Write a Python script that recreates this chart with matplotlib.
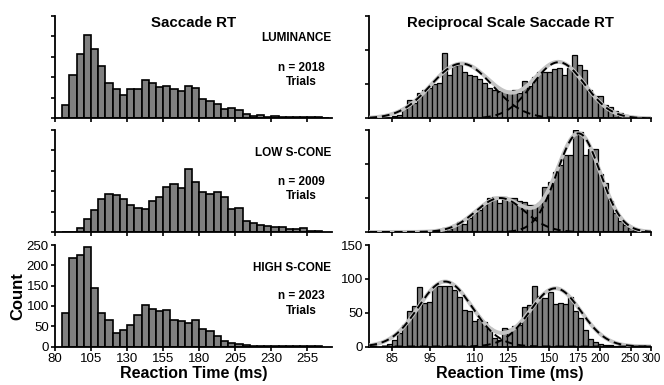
import numpy as np
import matplotlib
matplotlib.use('Agg')
import matplotlib.pyplot as plt

plt.rcParams['font.family'] = ['Liberation Sans', 'DejaVu Sans']

# ---- data: left column, RT histograms (5 ms bins starting at 85 ms)
rt_bin_start = 85
rt_bin_width = 5
counts_lum = [32, 105, 157, 204, 168, 127, 85, 72, 57, 72, 72, 93, 85, 76, 79, 72, 67, 78, 75,
              48, 43, 35, 22, 25, 20, 10, 5, 9, 4, 6, 4, 4, 3, 3, 2, 2, 1]
counts_low = [0, 0, 10, 33, 53, 81, 93, 91, 81, 65, 58, 56, 77, 85, 110, 117, 108, 154, 123,
              98, 94, 98, 85, 56, 59, 26, 22, 17, 15, 12, 13, 7, 7, 9, 3, 2]
counts_high = [82, 218, 225, 245, 143, 82, 65, 33, 40, 52, 78, 102, 93, 87, 89, 65, 63, 57, 65,
               43, 38, 27, 13, 8, 5, 3, 2, 1, 1, 1, 1, 1, 1, 1, 1, 1]

# ---- data: right column, reciprocal RT (-1000/RT) histograms
rec_bin_width = 0.163
rec_first_edge = [-11.92, -10.45, -12.08]
rec_lum = [1, 3, 5, 13, 27, 22, 37, 41, 44, 50, 52, 96, 64, 76, 78, 68, 64, 62, 58, 52, 44, 42,
           40, 40, 40, 41, 37, 55, 47, 61, 67, 67, 68, 72, 73, 63, 74, 93, 78, 70, 41, 32, 32,
           20, 17, 10, 8, 5, 3, 2, 1]
rec_low = [1, 2, 6, 4, 10, 14, 12, 20, 28, 32, 40, 50, 52, 42, 52, 50, 50, 46, 44, 40, 40, 42,
           66, 73, 88, 99, 113, 113, 150, 147, 113, 122, 122, 86, 72, 45, 28, 16, 10, 6, 3, 2, 1]
rec_high = [1, 3, 10, 20, 32, 52, 60, 88, 65, 66, 90, 90, 90, 89, 83, 73, 54, 53, 38, 40, 36,
            28, 12, 10, 27, 26, 30, 32, 59, 62, 90, 74, 72, 80, 63, 65, 63, 73, 52, 42, 24, 11,
            6, 4, 2, 2, 1, 1]

# two-gaussian fits in reciprocal space: (mean, sd, peak)
fit_lum = [(-9.50, 1.00, 80), (-6.34, 0.85, 82)]
fit_low = [(-8.24, 0.80, 50), (-5.69, 0.70, 145)]
fit_high = [(-10.03, 0.875, 96), (-6.445, 0.83, 86)]

conditions = ['LUMINANCE', 'LOW S-CONE', 'HIGH S-CONE']
n_trials = [2018, 2009, 2023]

left_ticks = [80, 105, 130, 155, 180, 205, 230, 255]
right_tick_rt = [85, 95, 110, 125, 150, 175, 200, 250, 300]

left_counts = [counts_lum, counts_low, counts_high]
right_counts = [rec_lum, rec_low, rec_high]
fits = [fit_lum, fit_low, fit_high]

W, H = 664, 385
fig = plt.figure(figsize=(W / 100, H / 100), dpi=100)

rows = [(15.7, 118.3), (130, 232), (245, 346.5)]
bar_gray = '#808080'

for i, (ytop, ybot) in enumerate(rows):
    b = 1 - ybot / H
    h = (ybot - ytop) / H
    axl = fig.add_axes([55 / W, b, 277 / W, h])
    axr = fig.add_axes([369.3 / W, b, (651 - 369.3) / W, h])

    # left: RT histogram
    c = left_counts[i]
    edges = rt_bin_start + rt_bin_width * np.arange(len(c))
    axl.bar(edges, c, width=rt_bin_width, align='edge', color=bar_gray,
            edgecolor='black', linewidth=1.2)
    axl.set_xlim(80, 272)
    axl.set_ylim(0, 250)
    axl.set_xticks(left_ticks)
    axl.set_yticks(np.arange(0, 251, 50))
    axl.text(0.997, 0.778, conditions[i], transform=axl.transAxes, ha='right', va='center',
             fontsize=8.5, fontweight='bold')
    axl.text(0.888, 0.493, 'n = %d' % n_trials[i], transform=axl.transAxes, ha='center',
             va='center', fontsize=8.5, fontweight='bold')
    axl.text(0.888, 0.352, 'Trials', transform=axl.transAxes, ha='center', va='center',
             fontsize=8.5, fontweight='bold')

    # right: reciprocal histogram + fits
    rc = right_counts[i]
    redges = rec_first_edge[i] + rec_bin_width * np.arange(len(rc))
    axr.bar(redges, rc, width=rec_bin_width, align='edge', color=bar_gray,
            edgecolor='black', linewidth=0.9)
    u = np.linspace(-12.5, -1000 / 300, 400)
    comps = [pk * np.exp(-0.5 * ((u - m) / s) ** 2) for m, s, pk in fits[i]]
    axr.plot(u, comps[0] + comps[1], color='#c4c4c4', lw=2.8, solid_capstyle='round', zorder=3)
    for cc in comps:
        axr.plot(u, cc, color='black', lw=1.4, ls=(0, (4, 2.5)), zorder=4)
    axr.set_xlim(-12.5, -1000 / 300)
    axr.set_ylim(0, 150)
    axr.set_xticks([-1000 / t for t in right_tick_rt])
    axr.set_yticks([0, 50, 100, 150])

    for ax in (axl, axr):
        for s in ('top', 'right'):
            ax.spines[s].set_visible(False)
        for s in ('left', 'bottom'):
            ax.spines[s].set_linewidth(1.3)
        ax.tick_params(direction='out', length=3, width=1.2, labelsize=9.5, pad=1.5)
        if i < 2:
            ax.set_xticklabels([])
            ax.set_yticklabels([])

    if i == 0:
        axl.text(0.5, 0.93, 'Saccade RT', transform=axl.transAxes, ha='center', va='center',
                 fontsize=10.8, fontweight='bold')
        axr.text(0.5, 0.93, 'Reciprocal Scale Saccade RT', transform=axr.transAxes,
                 ha='center', va='center', fontsize=10.7, fontweight='bold')
    if i == 2:
        axr.set_xticklabels([str(t) for t in right_tick_rt])
        axr.tick_params(axis='x', labelsize=8.3)
        axl.set_xticklabels([str(t) for t in left_ticks])
        axl.set_ylabel('Count', fontsize=12, fontweight='bold', labelpad=1)
        axl.set_xlabel('Reaction Time (ms)', fontsize=11.5, fontweight='bold', labelpad=1)
        axr.set_xlabel('Reaction Time (ms)', fontsize=11.5, fontweight='bold', labelpad=1)

fig.savefig('out.png', dpi=100)
